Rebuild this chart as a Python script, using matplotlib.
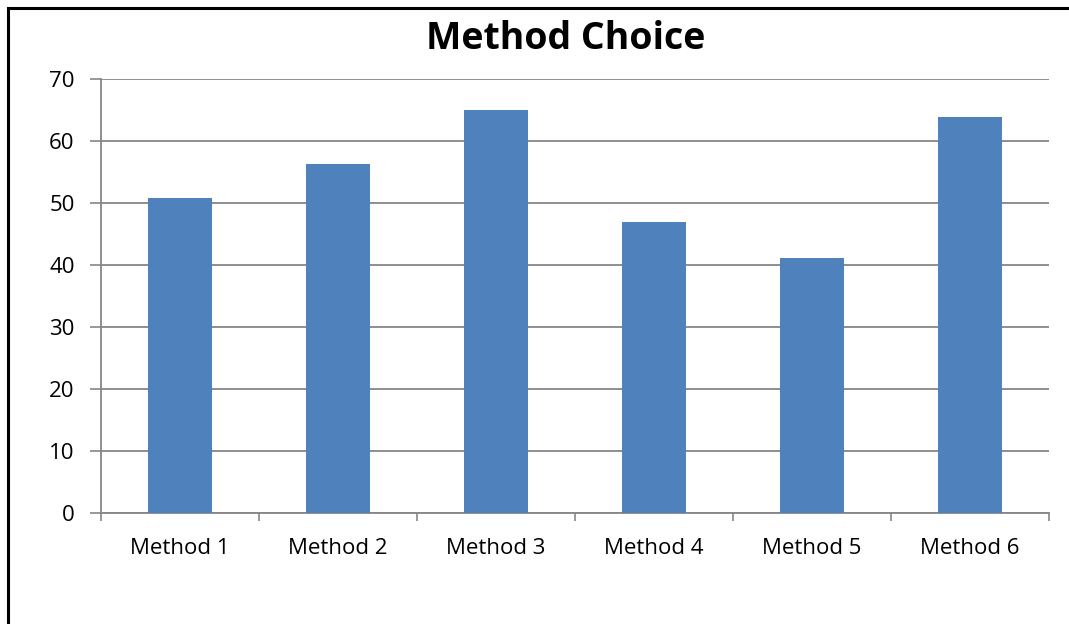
import matplotlib
matplotlib.use("Agg")
import matplotlib.pyplot as plt
import numpy as np

# survey results: how often each method was chosen
methods = ["Method 1", "Method 2", "Method 3", "Method 4", "Method 5", "Method 6"]
choices = [50.9, 56.3, 65.0, 47.0, 41.1, 63.8]

plt.rcParams['font.family'] = ['Open Sans', 'DejaVu Sans']

fig = plt.figure(figsize=(10.69, 6.24), dpi=100)
ax = fig.add_axes([0.0945, 0.1771, 0.8868, 0.6963])

x = np.arange(len(methods))
ax.bar(x, choices, width=0.4, color="#4F81BD", zorder=3)

grid_col = "#868686"
ax.set_ylim(0, 70)
ax.set_xlim(-0.5, len(methods) - 0.5)
ax.set_yticks(range(0, 71, 10))
ax.yaxis.grid(True, color=grid_col, linewidth=1.3, zorder=0)

# category labels sit between boundary ticks
ax.set_xticks(np.arange(-0.5, len(methods)), minor=False)
ax.set_xticklabels([])
ax.set_xticks(x, minor=True)
ax.set_xticklabels(methods, minor=True)
ax.tick_params(axis="x", which="minor", length=0, pad=18, labelsize=16)
ax.tick_params(axis="x", which="major", length=6, color=grid_col, width=1.2)
ax.tick_params(axis="y", length=8, color=grid_col, width=1.2, pad=11, labelsize=16)

for side in ("top", "right"):
    ax.spines[side].set_visible(False)
for side in ("left", "bottom"):
    ax.spines[side].set_color(grid_col)
    ax.spines[side].set_linewidth(1.3)

fig.text(566 / 1069, 1 - 49 / 624, "Method Choice", ha="center", va="baseline",
         fontsize=27, fontweight="bold")

# chart frame
fig.patches.append(plt.Rectangle((8 / 1069, -0.1), 1.2, 1 - 7.5 / 624 + 0.1,
                                 transform=fig.transFigure, fill=False,
                                 edgecolor="black", linewidth=2.2))

fig.savefig("out.png", dpi=100)
